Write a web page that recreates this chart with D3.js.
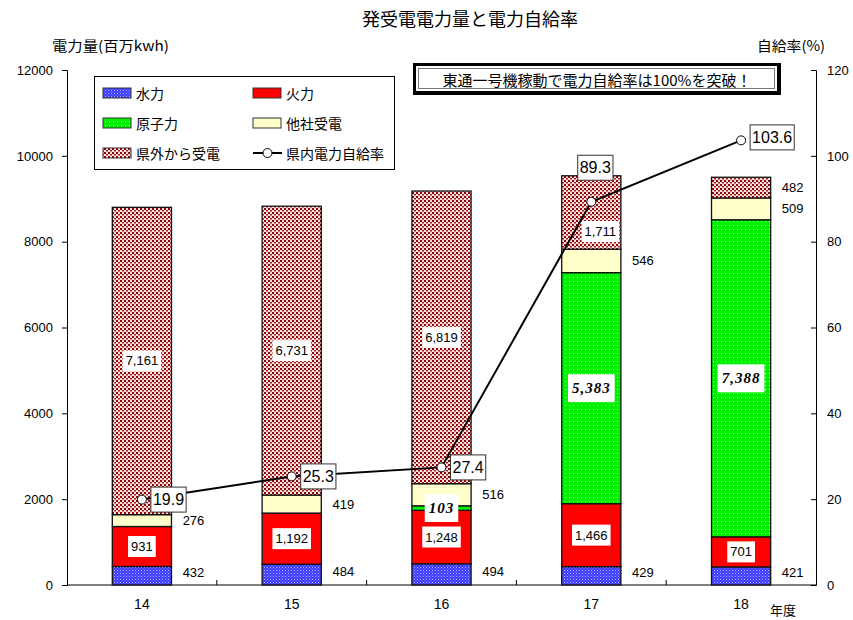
<!DOCTYPE html>
<html>
<head>
<meta charset="utf-8">
<script src="https://cdn.jsdelivr.net/npm/d3@7"></script>
<style>
  body { margin: 0; background: #fff; }
  svg { display: block; }
  .jp { font-family: "Noto Sans CJK JP", sans-serif; }
  .num { font-family: "Liberation Sans Narrow", "Arial Narrow", "Liberation Sans", sans-serif; }
</style>
</head>
<body>
<svg id="chart" width="853" height="620"></svg>
<script>
// Fiscal years and generation / receipt by source (million kWh)
const years = ["14", "15", "16", "17", "18"];
const hydro = [432, 484, 494, 429, 421];
const thermal = [931, 1192, 1248, 1466, 701];
const nuclear = [0, 0, 103, 5383, 7388];
const otherCo = [276, 419, 516, 546, 509];
const outside = [7161, 6731, 6819, 1711, 482];
// Prefectural self-sufficiency rate (%)
const selfRate = [19.9, 25.3, 27.4, 89.3, 103.6];

const leftTicks = [0, 2000, 4000, 6000, 8000, 10000, 12000];
const rightTicks = [0, 20, 40, 60, 80, 100, 120];

const seriesKeys = ["hydro", "thermal", "nuclear", "otherCo", "outside"];
const seriesNames = {
  hydro: "水力", thermal: "火力", nuclear: "原子力",
  otherCo: "他社受電", outside: "県外から受電"
};
const seriesValues = { hydro, thermal, nuclear, otherCo, outside };

const rows = years.map((yr, i) => {
  const r = { year: yr };
  seriesKeys.forEach(k => r[k] = seriesValues[k][i]);
  return r;
});

const svg = d3.select("#chart");
const plotLeft = 67, plotRight = 816, plotTop = 70, plotBottom = 585;

const x = d3.scaleBand().domain(years).range([plotLeft, plotRight]).padding(0);
const y = d3.scaleLinear().domain([0, 12000]).range([plotBottom, plotTop]);
const yR = d3.scaleLinear().domain([0, 120]).range([plotBottom, plotTop]);
const barW = x.bandwidth() * 0.395;

// ---- fill patterns ----
const defs = svg.append("defs");
const hydroPat = defs.append("pattern").attr("id", "pHydro")
  .attr("width", 3).attr("height", 3).attr("patternUnits", "userSpaceOnUse");
hydroPat.append("rect").attr("width", 3).attr("height", 3).attr("fill", "#3a3aff");
hydroPat.append("rect").attr("x", 0).attr("y", 0).attr("width", 1).attr("height", 1).attr("fill", "#b8b8ff");
hydroPat.append("rect").attr("x", 1.5).attr("y", 1.5).attr("width", 1).attr("height", 1).attr("fill", "#8c8cff");

const nucPat = defs.append("pattern").attr("id", "pNuclear")
  .attr("width", 4).attr("height", 4).attr("patternUnits", "userSpaceOnUse");
nucPat.append("rect").attr("width", 4).attr("height", 4).attr("fill", "#00f000");
nucPat.append("rect").attr("x", 1).attr("y", 1).attr("width", 1).attr("height", 1).attr("fill", "#c8ffc8");

const outPat = defs.append("pattern").attr("id", "pOutside")
  .attr("width", 4).attr("height", 4).attr("patternUnits", "userSpaceOnUse");
outPat.append("rect").attr("width", 4).attr("height", 4).attr("fill", "#f8e4e4");
outPat.append("rect").attr("x", 0).attr("y", 0).attr("width", 2).attr("height", 2).attr("fill", "#960000");
outPat.append("rect").attr("x", 2).attr("y", 2).attr("width", 2).attr("height", 1.5).attr("fill", "#a81818");

const fills = {
  hydro: "url(#pHydro)", thermal: "#ff0000", nuclear: "url(#pNuclear)",
  otherCo: "#ffffcc", outside: "url(#pOutside)"
};

// ---- titles ----
svg.append("text").attr("class", "jp").attr("x", 362).attr("y", 26)
  .attr("font-size", 18).attr("textLength", 216).attr("lengthAdjust", "spacingAndGlyphs")
  .text("発受電電力量と電力自給率");
svg.append("text").attr("class", "jp").attr("x", 52).attr("y", 51)
  .attr("font-size", 14).attr("textLength", 117).attr("lengthAdjust", "spacingAndGlyphs")
  .text("電力量(百万kwh)");
svg.append("text").attr("class", "jp").attr("x", 757).attr("y", 51)
  .attr("font-size", 14).attr("textLength", 68).attr("lengthAdjust", "spacingAndGlyphs")
  .text("自給率(%)");

// ---- axes ----
const axL = svg.append("g").attr("transform", `translate(${plotLeft},0)`)
  .call(d3.axisLeft(y).tickValues(leftTicks).tickSize(5).tickPadding(9).tickFormat(d3.format("d")));
const axR = svg.append("g").attr("transform", `translate(${plotRight},0)`)
  .call(d3.axisRight(yR).tickValues(rightTicks).tickSize(-5).tickPadding(11).tickFormat(d3.format("d")));
[axL, axR].forEach(g => {
  g.selectAll("text").attr("font-family", "Liberation Sans, Arial, sans-serif").attr("font-size", 13).attr("fill", "#000");
  g.selectAll("line, path").attr("stroke", "#000");
});

const axB = svg.append("g").attr("transform", `translate(0,${plotBottom})`);
axB.append("line").attr("x1", plotLeft).attr("x2", plotRight).attr("stroke", "#000");
axB.selectAll("line.tk").data(years.slice(1)).join("line").attr("class", "tk")
  .attr("x1", d => x(d)).attr("x2", d => x(d)).attr("y1", 0).attr("y2", -5).attr("stroke", "#000");
axB.selectAll("text.cat").data(years).join("text").attr("class", "cat num")
  .attr("x", d => x(d) + x.bandwidth() / 2).attr("y", 24)
  .attr("text-anchor", "middle").attr("font-size", 14).text(d => d);
svg.append("text").attr("class", "jp").attr("x", 783).attr("y", 615)
  .attr("text-anchor", "middle").attr("font-size", 13).text("年度");

// ---- stacked bars ----
const stack = d3.stack().keys(seriesKeys)(rows);
const barG = svg.append("g");
stack.forEach(layer => {
  barG.selectAll(null).data(layer.filter(d => d[1] > d[0])).join("rect")
    .attr("x", d => x(d.data.year) + (x.bandwidth() - barW) / 2)
    .attr("width", barW)
    .attr("y", d => y(d[1]))
    .attr("height", d => y(d[0]) - y(d[1]))
    .attr("fill", fills[layer.key])
    .attr("stroke", "#111").attr("stroke-width", 1.3);
});

// ---- rate line ----
const cx = i => x(years[i]) + x.bandwidth() / 2;
const line = d3.line().x((d, i) => cx(i)).y(d => yR(d));

// ---- bar value labels ----
const fmt = d3.format(",");
const labG = svg.append("g");
function boxedLabel(g, tx, ty, txt, opts) {
  const t = g.append("text").attr("x", tx).attr("y", ty)
    .attr("text-anchor", "middle").attr("dominant-baseline", "central")
    .attr("font-size", opts.size).text(txt);
  if (opts.serif) {
    t.attr("font-family", "Liberation Serif, serif").attr("font-weight", "bold")
      .attr("font-style", "italic").attr("letter-spacing", 1);
  } else {
    t.attr("class", "num");
  }
  const b = t.node().getBBox();
  g.insert("rect", () => t.node())
    .attr("x", b.x - opts.padX).attr("y", b.y - opts.padY)
    .attr("width", b.width + 2 * opts.padX).attr("height", b.height + 2 * opts.padY)
    .attr("fill", "#fff");
}
function sideLabel(g, tx, ty, txt) {
  g.append("text").attr("class", "num").attr("x", tx).attr("y", ty)
    .attr("text-anchor", "middle").attr("dominant-baseline", "central")
    .attr("font-size", 13).text(txt);
}

stack.forEach(layer => {
  layer.forEach((d, i) => {
    const v = d[1] - d[0];
    if (v <= 0) return;
    const mid = y((d[0] + d[1]) / 2);
    const c = cx(i);
    const sideX = c + barW / 2 + 22;
    const key = layer.key;
    if (key === "hydro" || key === "otherCo") {
      sideLabel(labG, sideX, mid - (key === "hydro" ? 3 : 0), fmt(v));
    } else if (key === "thermal") {
      boxedLabel(labG, c, mid, fmt(v), { size: 13, padX: 3, padY: 3 });
    } else if (key === "nuclear") {
      boxedLabel(labG, c, mid, fmt(v), { size: 15, padX: 4, padY: 6, serif: true });
    } else if (key === "outside") {
      if (v > 1000) {
        // keep clear of the rate marker when it sits inside this segment
        const py = yR(selfRate[i]);
        const near = Math.abs(py - mid) < 25;
        boxedLabel(labG, c + (near ? 9 : 0), mid + (near ? 19 : 0), fmt(v), { size: 13, padX: 3, padY: 3 });
      } else {
        sideLabel(labG, sideX, mid, fmt(v));
      }
    }
  });
});

svg.append("path").datum(selfRate).attr("d", line)
  .attr("fill", "none").attr("stroke", "#000").attr("stroke-width", 2);
svg.selectAll("circle.pt").data(selfRate).join("circle").attr("class", "pt")
  .attr("cx", (d, i) => cx(i)).attr("cy", d => yR(d)).attr("r", 4.5)
  .attr("fill", "#fff").attr("stroke", "#000").attr("stroke-width", 1);

// rate labels: boxed, beside each marker (above it where the line climbs steeply)
const rateG = svg.append("g");
selfRate.forEach((v, i) => {
  const steep = i > 0 && i < selfRate.length - 1 && (selfRate[i] - selfRate[i - 1]) > 40;
  const px = cx(i), py = yR(v);
  const t = rateG.append("text").attr("class", "num")
    .attr("font-size", 16).attr("dominant-baseline", "central").text(d3.format(".1f")(v));
  if (steep) {
    t.attr("x", px + 4).attr("y", py - 34).attr("text-anchor", "middle");
  } else {
    t.attr("x", px + 11).attr("y", py - (i === selfRate.length - 1 ? 3 : 0)).attr("text-anchor", "start");
  }
  const b = t.node().getBBox();
  rateG.insert("rect", () => t.node())
    .attr("x", b.x - 2).attr("y", b.y - 4).attr("width", b.width + 4).attr("height", b.height + 8)
    .attr("fill", "#fff").attr("stroke", "#333").attr("stroke-width", 1);
});

// ---- legend ----
const lg = svg.append("g");
lg.append("rect").attr("x", 94.5).attr("y", 76.5).attr("width", 300).attr("height", 93)
  .attr("fill", "#fff").attr("stroke", "#000");
const legendItems = [
  { key: "hydro", col: 0, row: 0 }, { key: "thermal", col: 1, row: 0 },
  { key: "nuclear", col: 0, row: 1 }, { key: "otherCo", col: 1, row: 1 },
  { key: "outside", col: 0, row: 2 }, { key: "rate", col: 1, row: 2 }
];
legendItems.forEach(it => {
  const lx = 103 + it.col * 150, ly = 93 + it.row * 30;
  if (it.key === "rate") {
    lg.append("line").attr("x1", lx).attr("x2", lx + 29).attr("y1", ly).attr("y2", ly)
      .attr("stroke", "#000").attr("stroke-width", 2);
    lg.append("circle").attr("cx", lx + 14.5).attr("cy", ly).attr("r", 4.5)
      .attr("fill", "#fff").attr("stroke", "#000");
  } else {
    lg.append("rect").attr("x", lx).attr("y", ly - 5).attr("width", 28).attr("height", 10)
      .attr("fill", fills[it.key]).attr("stroke", "#333").attr("stroke-width", 1);
  }
  lg.append("text").attr("class", "jp").attr("x", lx + 33).attr("y", ly)
    .attr("dominant-baseline", "central").attr("font-size", 14)
    .text(it.key === "rate" ? "県内電力自給率" : seriesNames[it.key]);
});

// ---- callout ----
const cg = svg.append("g");
cg.append("rect").attr("x", 413).attr("y", 63).attr("width", 368).attr("height", 32).attr("fill", "#000");
cg.append("rect").attr("x", 416).attr("y", 66).attr("width", 361).attr("height", 25).attr("fill", "#fff");
cg.append("rect").attr("x", 418.5).attr("y", 68.5).attr("width", 356).attr("height", 20)
  .attr("fill", "#fff").attr("stroke", "#777").attr("stroke-width", 1);
cg.append("text").attr("class", "jp").attr("x", 597).attr("y", 79)
  .attr("text-anchor", "middle").attr("dominant-baseline", "central").attr("font-size", 15)
  .text("東通一号機稼動で電力自給率は100%を突破！");
</script>
</body>
</html>
